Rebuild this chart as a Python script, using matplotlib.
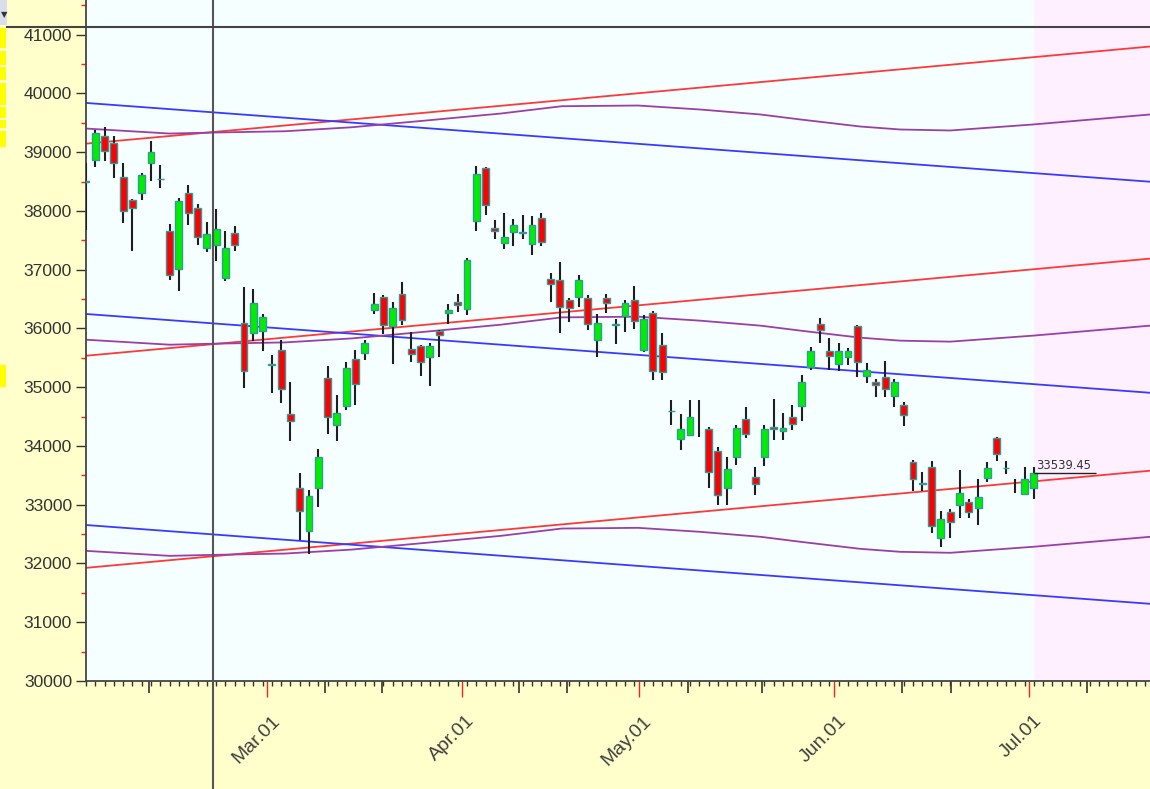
import numpy as np
import matplotlib
matplotlib.use("Agg")
import matplotlib.pyplot as plt
from matplotlib.lines import Line2D
from matplotlib.patches import Rectangle
from matplotlib.transforms import ScaledTranslation

# daily candles, one per trading day (index 0 = first visible day)
opens = [38510, 38870, 39270, 39153, 38586, 38188, 38314, 38812, 38550, 37665,
         37013, 38314, 38052, 37370, 37415, 36859, 37631, 36087, 35928, 35962,
         35390, 35633, 34543, 33283, 32555, 33293, 35157, 34349, 34685, 35474,
         35587, 36320, 36541, 36036, 36593, 35644, 35707, 35508, 35956, 36258,
         36456, 36335, 37837, 38734, 37711, 37461, 37649, 37636, 37440, 37882,
         36844, 36827, 36490, 36541, 36517, 35809, 36517, 36069, 36218, 36490,
         35633, 36264, 35713, 34604, 34117, 34191, 34450, 34287, 33918, 33293,
         33816, 34458, 33475, 33805, 34327, 34247, 34497, 34685, 35349, 36073,
         35622, 35395, 35508, 36034, 35184, 35093, 35168, 34843, 34697, 33736,
         33366, 33645, 32429, 32879, 32998, 33049, 32952, 33453, 34134, 33628,
         33350, 33191, 33293]
highs = [38810, 39373, 39425, 39278, 38824, 38210, 38642, 39187, 38784, 37779,
         38223, 38448, 38120, 37807, 38035, 37654, 37751, 36700, 36679, 36247,
         35548, 35803, 35085, 33532, 33248, 33957, 35354, 34871, 35423, 35633,
         35808, 36610, 36576, 36450, 36792, 35945, 35720, 35758, 35979, 36422,
         36592, 37201, 38768, 38750, 37847, 37967, 37864, 37933, 37910, 37967,
         36950, 37129, 36524, 36912, 36576, 36252, 36593, 36166, 36490, 36721,
         36223, 36303, 35923, 34781, 34543, 34781, 34781, 34327, 33986, 33821,
         34355, 34656, 33634, 34355, 34798, 34560, 34702, 35207, 35679, 36186,
         35843, 35757, 35662, 36062, 35412, 35139, 35440, 35139, 34741, 33765,
         33558, 33748, 32896, 32935, 33589, 33095, 33436, 33719, 34150, 33748,
         33430, 33645, 33645]
lows = [37680, 38756, 38858, 38563, 37790, 37325, 38188, 38518, 38387, 36826,
        36644, 37768, 37427, 37302, 37155, 36814, 37325, 34985, 35780, 35622,
        34894, 34724, 34088, 32397, 32158, 32964, 34212, 34088, 34611, 34702,
        35468, 36252, 35905, 35395, 36065, 35428, 35190, 35025, 35519, 36081,
        36278, 36235, 37665, 37939, 37523, 37353, 37410, 37529, 37257, 37404,
        36448, 35919, 36115, 36373, 35979, 35508, 36269, 35740, 35945, 35987,
        35604, 35127, 35127, 34361, 33930, 34185, 34157, 33293, 32998, 32998,
        33680, 34134, 33168, 33663, 34100, 34100, 34276, 34429, 35298, 35749,
        35298, 35281, 35383, 35179, 35076, 34826, 34826, 34656, 34344, 33237,
        33237, 32526, 32288, 32429, 32782, 32771, 32657, 33390, 33748, 33521,
        33202, 33185, 33106]
closes = [38500, 39323, 39029, 38812, 38006, 38052, 38615, 39012, 38540, 36916,
          38177, 37973, 37563, 37609, 37694, 37370, 37427, 35270, 36439, 36201,
          35380, 34969, 34429, 32896, 33151, 33816, 34497, 34554, 35327, 35055,
          35757, 36422, 36053, 36343, 36145, 35565, 35434, 35707, 35894, 36320,
          36405, 37167, 38632, 38097, 37654, 37563, 37763, 37626, 37763, 37478,
          36759, 36373, 36354, 36827, 36081, 36098, 36439, 36059, 36439, 36126,
          36167, 35281, 35264, 34594, 34287, 34497, 34450, 33560, 33164, 33600,
          34304, 34202, 33350, 34287, 34287, 34304, 34372, 35093, 35622, 35976,
          35525, 35622, 35622, 35430, 35298, 35042, 34969, 35093, 34526, 33436,
          33356, 32640, 32753, 32714, 33197, 32884, 33140, 33623, 33861, 33618,
          33350, 33440, 33539.45]

last_close = 33539.45

# month starts (tick sits between candles) and their labels
month_pos = [19.5, 40.5, 59.5, 80.5, 101.5]
month_labels = ["Mar.01", "Apr.01", "May.01", "Jun.01", "Jul.01"]
mid_ticks = [6.8, 25.7, 31.9, 46.6, 51.8, 64.8, 72.7, 87.8, 93.1, 107.7]

# regression channels
chan_x = [0, 114.5]
red_mid = [35536, 37189]
red_w = 3610
blue_mid = [36247, 34906]
blue_w = 3592
purple_x = [0, 9, 13.7, 21.4, 28.6, 35.7, 44.6, 51.2, 59.4, 66.1, 72.6, 76.9,
            83.3, 87.6, 93, 101.9, 114.5]
purple_mid = [35809, 35724, 35741, 35763, 35831, 35933, 36064, 36189, 36201,
              36133, 36048, 35963, 35844, 35793, 35776, 35878, 36048]
purple_w = 3594

W, H = 1150, 789
fig = plt.figure(figsize=(W / 100, H / 100), dpi=100, facecolor="#FFFFCC")
ax = fig.add_axes([86 / W, 108 / H, 1 - 86 / W, 681 / H])
ax.set_facecolor("#F5FFFF")
ax.set_xlim(0, 114.5)
ax.set_ylim(30000, 41591)

ax.axvspan(102, 114.5, color="#FFF0FF", zorder=0, lw=0)

# channel lines
for mid, w, col in [(red_mid, red_w, "#FF3838"), (blue_mid, blue_w, "#3A3AFF")]:
    m = np.array(mid)
    for off in (w, 0, -w):
        ax.plot(chan_x, m + off, color=col, lw=1.3, zorder=2)
pm = np.array(purple_mid)
for off in (purple_w, 0, -purple_w):
    ax.plot(purple_x, pm + off, color="#9A3FAA", lw=1.3, zorder=2)

# candles
o = np.array(opens, dtype=float)
h = np.array(highs, dtype=float)
l = np.array(lows, dtype=float)
c = np.array(closes, dtype=float)
xs = np.arange(len(o))
ax.vlines(xs, l, h, color="#1E1E1E", lw=1.5, zorder=3)
has_body = c != o
colors = np.where(c >= o, "#00EE00", "#FF0000")
ax.bar(xs[has_body], np.abs(c - o)[has_body], bottom=np.minimum(o, c)[has_body],
       width=0.74, color=colors[has_body], edgecolor="#339999", linewidth=1.0,
       zorder=4)

# last price marker
ax.hlines(last_close, 102, 108.7, color="#222222", lw=1.0, zorder=5)
ax.text(102.2, last_close + 25, f"{last_close:.2f}", fontsize=8.3,
        family="DejaVu Sans", color="#333333", ha="left", va="bottom", zorder=6)

# axes styling
for s in ("top", "right"):
    ax.spines[s].set_visible(False)
for s in ("left", "bottom"):
    ax.spines[s].set_color("#444444")
    ax.spines[s].set_linewidth(1.3)

ax.set_yticks(range(30000, 41001, 1000))
ax.set_yticklabels([str(v) for v in range(30000, 41001, 1000)])
ax.set_yticks(np.arange(30500, 41600, 1000), minor=True)
ax.tick_params(axis="y", which="major", length=7, width=1, color="#333333",
               labelsize=12.6, labelcolor="#333333", pad=3)
ax.tick_params(axis="y", which="minor", length=3.6, width=1, color="#FF2020")
for t in ax.get_yticklabels():
    t.set_family(["Liberation Sans Narrow", "Liberation Sans"])

ax.set_xticks(month_pos)
ax.set_xticklabels(month_labels)
ax.set_xticks(np.arange(0, 115), minor=True)
ax.tick_params(axis="x", which="major", length=11.5, width=1, color="#FF2020",
               labelsize=14, labelcolor="#404040", pad=11)
ax.tick_params(axis="x", which="minor", length=3.6, width=1, color="#333333")
for t in ax.get_xticklabels():
    t.set_rotation(45)
    t.set_ha("right")
    t.set_va("top")
    t.set_rotation_mode("anchor")
    t.set_family("Liberation Sans")
    t.set_transform(t.get_transform() + ScaledTranslation(0.04, 0, fig.dpi_scale_trans))

sec = ax.secondary_xaxis("bottom")
sec.set_xticks(mid_ticks)
sec.tick_params(axis="x", length=8.6, width=1.2, color="#333333", labelbottom=False)
sec.spines["bottom"].set_visible(False)

# crosshair
fig.add_artist(Line2D([213 / W, 213 / W], [0, 1], transform=fig.transFigure,
                      color="#555555", lw=1.5, zorder=10))
fig.add_artist(Line2D([7 / W, 1], [1 - 27 / H, 1 - 27 / H], transform=fig.transFigure,
                      color="#444444", lw=1.5, zorder=10))

# left edge widgets
fig.add_artist(Rectangle((0, 1 - 25 / H), 7 / W, 25 / H, transform=fig.transFigure,
                         facecolor="#D9DEEA", edgecolor="none"))
fig.text(0.5 / W, 1 - 15 / H, "▼", fontsize=6, color="#333333", va="center")
for y0, y1 in [(28, 48), (51, 65), (67, 80), (83, 105), (107, 118), (120, 128),
               (131, 147), (365, 387)]:
    fig.add_artist(Rectangle((0, 1 - y1 / H), 6 / W, (y1 - y0) / H,
                             transform=fig.transFigure, facecolor="#FFFF00",
                             edgecolor="none"))

fig.savefig("out.png", dpi=100, facecolor=fig.get_facecolor())
